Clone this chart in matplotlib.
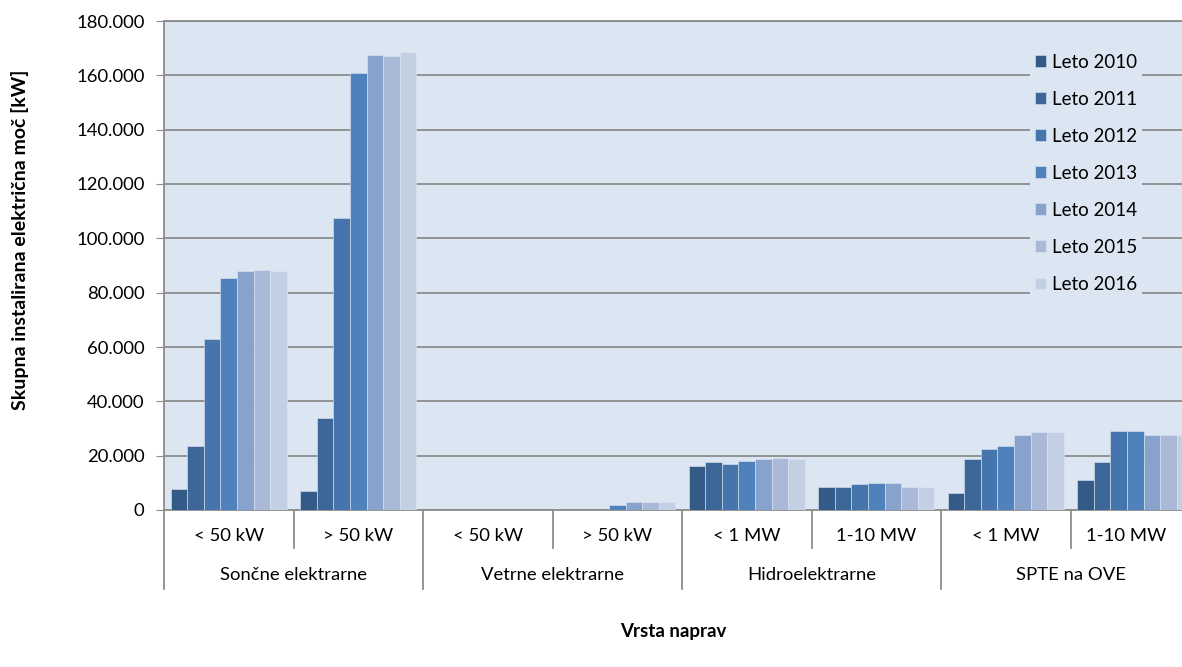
import numpy as np
import matplotlib
matplotlib.use("Agg")
from matplotlib import pyplot as plt
from matplotlib.ticker import FuncFormatter

plt.rcParams["font.family"] = ["Lato", "DejaVu Sans"]

# Data (kW)
categories = ["< 50 kW", "> 50 kW", "< 50 kW", "> 50 kW",
              "< 1 MW", "1-10 MW", "< 1 MW", "1-10 MW"]
groups = ["Sončne elektrarne", "Vetrne elektrarne", "Hidroelektrarne", "SPTE na OVE"]
years = ["Leto 2010", "Leto 2011", "Leto 2012", "Leto 2013",
         "Leto 2014", "Leto 2015", "Leto 2016"]

leto_2010 = [7800, 7000, 0, 0, 16100, 8300, 6400, 11200]
leto_2011 = [23400, 33700, 0, 0, 17600, 8300, 18800, 17500]
leto_2012 = [62800, 107500, 0, 0, 17100, 9400, 22500, 28900]
leto_2013 = [85400, 160800, 0, 2000, 18200, 10100, 23600, 28900]
leto_2014 = [87900, 167500, 0, 3100, 18700, 10100, 27500, 27600]
leto_2015 = [88300, 167000, 0, 3100, 19100, 8300, 28600, 27600]
leto_2016 = [88000, 168700, 0, 3000, 18800, 8300, 28600, 27600]
series = [leto_2010, leto_2011, leto_2012, leto_2013, leto_2014, leto_2015, leto_2016]

colors = ["#345A88", "#3E6799", "#4675AE", "#4F81BD", "#87A2CC", "#AAB9D7", "#C3CFE2"]

W, H = 1182, 667
fig = plt.figure(figsize=(W / 100, H / 100), dpi=100)
ax_left, ax_right, ax_top, ax_bottom = 164, 1182, 21, 510
ax = fig.add_axes([ax_left / W, (H - ax_bottom) / H,
                   (ax_right - ax_left) / W, (ax_bottom - ax_top) / H])
ax.set_facecolor("#DCE6F2")

group_px = 129.5
x = np.arange(len(categories))
bar_w = 0.128
for i, (vals, c) in enumerate(zip(series, colors)):
    ax.bar(x + (i - 3) * bar_w, vals, width=bar_w, color=c,
           edgecolor="#DCE6F2", linewidth=0.4, label=years[i], zorder=3)

ax.set_xlim(-0.5, -0.5 + (ax_right - ax_left) / group_px)
ax.set_ylim(0, 180000)
ax.set_yticks(np.arange(0, 180001, 20000))
ax.yaxis.set_major_formatter(FuncFormatter(lambda v, p: f"{int(v):,}".replace(",", ".")))
ax.grid(axis="y", color="#8C8C8C", linewidth=1.3, zorder=1)
ax.set_axisbelow(True)
ax.tick_params(axis="y", direction="out", length=6, color="#8C8C8C",
               labelsize=13.3, pad=8, labelcolor="#000000")
ax.set_xticks([])
for s in ["top", "right"]:
    ax.spines[s].set_visible(False)
for s in ["left", "bottom"]:
    ax.spines[s].set_color("#8C8C8C")
    ax.spines[s].set_linewidth(1.3)
ax.axhline(180000, color="#8C8C8C", linewidth=1.3, clip_on=False, zorder=1)

# category separators below the axis
trans = ax.get_xaxis_transform()
span = ax_bottom - ax_top
y_cat = -(548 - ax_bottom) / span
y_grp = -(589 - ax_bottom) / span
for k in range(len(categories)):
    b = k - 0.5
    ylo = y_grp if k % 2 == 0 else y_cat
    ax.plot([b, b], [0, ylo], transform=trans, color="#8C8C8C", lw=1.3,
            clip_on=False)

xmax = ax.get_xlim()[1]
y_cat_txt = -(536 - ax_bottom) / span
y_grp_txt = -(575 - ax_bottom) / span
for k, lab in enumerate(categories):
    cx = (k - 0.5 + min(k + 0.5, xmax)) / 2
    ax.text(cx, y_cat_txt, lab, transform=trans, ha="center", va="center",
            fontsize=13.3)
for g, lab in enumerate(groups):
    cx = 2 * g + 0.5
    ax.text(cx, y_grp_txt, lab, transform=trans, ha="center", va="center",
            fontsize=13.3)

fig.text(20 / W, 1 - 240 / H, "Skupna instalirana električna moč [kW]",
         rotation=90, ha="center", va="center", fontsize=14, fontweight="bold")
fig.text(673 / W, 1 - 631 / H, "Vrsta naprav", ha="center", va="center",
         fontsize=13.5, fontweight="bold")

leg = ax.legend(loc="upper left", bbox_to_anchor=(1030 / W, 1 - 49 / H),
                bbox_transform=fig.transFigure, frameon=True, fontsize=13.5,
                handlelength=0.6, handleheight=0.6, handletextpad=0.35,
                labelspacing=1.07, borderpad=0.25, borderaxespad=0)
leg.get_frame().set_facecolor("#DCE6F2")
leg.get_frame().set_edgecolor("none")
leg.get_frame().set_alpha(1)
leg.set_zorder(5)

fig.savefig("out.png", dpi=100, facecolor="white")
